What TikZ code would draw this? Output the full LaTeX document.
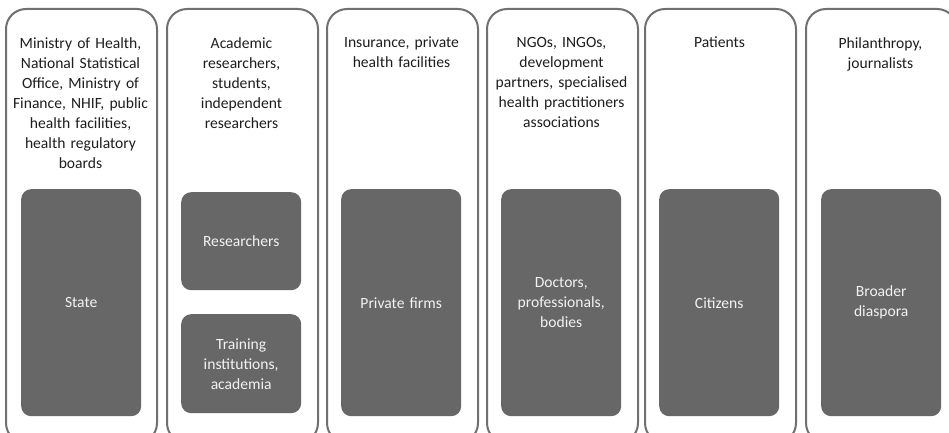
\documentclass[tikz,border=0pt]{standalone}
\usepackage{fontspec}
\setmainfont{Carlito}
\definecolor{panelline}{HTML}{707070}
\definecolor{boxfill}{HTML}{676767}
\definecolor{boxtext}{HTML}{F2F2F2}
\definecolor{headtext}{HTML}{1E1E1E}
\begin{document}
\begin{tikzpicture}[x=1pt,y=-1pt,
  panel/.style={draw=panelline,line width=2pt,rounded corners=20pt,fill=white,
    minimum width=151pt,minimum height=434pt,anchor=north west,inner sep=0pt},
  head/.style={text=headtext,font=\fontsize{15.6pt}{20pt}\selectfont,align=center,
    text width=150pt,anchor=north,inner sep=0pt},
  darkbox/.style={fill=boxfill,rounded corners=10pt,minimum width=120pt,
    text=boxtext,font=\fontsize{15.6pt}{20pt}\selectfont,align=center,text width=112pt,
    inner sep=0pt,anchor=north west}]
\useasboundingbox (0,0) rectangle (949,433);
\clip (0,0) rectangle (949,433);
% panels
\node[panel] (p1) at (5,8) {};
\node[panel] (p2) at (166,8) {};
\node[panel] (p3) at (326,8) {};
\node[panel] (p4) at (486,8) {};
\node[panel] (p5) at (644,8) {};
\node[panel] (p6) at (805,8) {};
% headers
\node[head] (h1) at (80.5,37) {Ministry of Health,\\ National Statistical\\ Office, Ministry of\\ Finance, NHIF, public\\ health facilities,\\ health regulatory\\ boards};
\node[head] (h2) at (241.5,37) {Academic\\ researchers,\\ students,\\ independent\\ researchers};
\node[head] (h3) at (401.5,37) {Insurance, private\\ health facilities};
\node[head] (h4) at (561.5,37) {NGOs, INGOs,\\ development\\ partners, specialised\\ health practitioners\\ associations};
\node[head] (h5) at (719.5,37) {Patients};
\node[head] (h6) at (880.5,37) {Philanthropy,\\ journalists};
% dark boxes
\node[darkbox,minimum height=227pt] (b1) at (21,189) {State};
\node[darkbox,minimum height=98pt] (b2a) at (181,192) {Researchers};
\node[darkbox,minimum height=99pt] (b2b) at (181,314) {Training\\ institutions,\\ academia};
\node[darkbox,minimum height=227pt] (b3) at (341,189) {Private firms};
\node[darkbox,minimum height=227pt] (b4) at (501,189) {Doctors,\\ professionals,\\ bodies};
\node[darkbox,minimum height=227pt] (b5) at (659,189) {Citizens};
\node[darkbox,minimum height=227pt] (b6) at (821,189) {Broader\\ diaspora};
\end{tikzpicture}
\end{document}
